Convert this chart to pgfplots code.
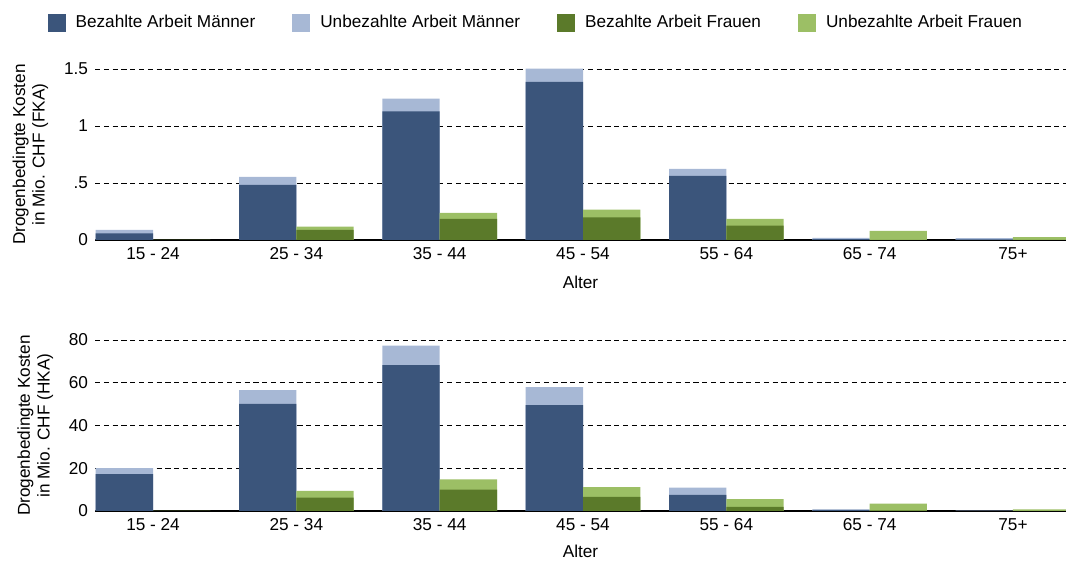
\documentclass[border=0pt]{standalone}
\usepackage{fontspec}
\setmainfont{Liberation Sans}
\usepackage{pgfplots}
\usepackage{pgfplotstable}
\pgfplotsset{compat=1.18}

\definecolor{mdark}{RGB}{59,85,123}
\definecolor{mlight}{RGB}{167,184,213}
\definecolor{fdark}{RGB}{91,122,42}
\definecolor{flight}{RGB}{156,191,101}

% paid / unpaid work, men (m) and women (f)
\pgfplotstableread{
x mp    mu    fp    fu
0 0.059 0.029 0.000 0.000
1 0.483 0.071 0.088 0.029
2 1.128 0.111 0.185 0.052
3 1.386 0.118 0.199 0.068
4 0.562 0.062 0.126 0.059
5 0.008 0.010 0.000 0.079
6 0.006 0.010 0.000 0.026
}\fka
\pgfplotstableread{
x mp   mu  fp   fu
0 17.2 2.9 0.0  0.0
1 50.1 6.5 6.2  3.2
2 68.3 9.1 10.0 4.8
3 49.5 8.4 6.6  4.6
4 7.5  3.4 1.9  3.6
5 0.5  0.3 0.3  3.1
6 0.1  0.1 0.1  0.7
}\hka

\pgfplotsset{
  costs/.style={
    scale only axis, width=485.5pt, height=85.5pt,
    anchor=south west,
    ybar, bar width=0.4,
    xmin=-0.405, xmax=6.37, ymin=0,
    xtick={0,...,6},
    xticklabels={15 - 24,25 - 34,35 - 44,45 - 54,55 - 64,65 - 74,75+},
    xticklabel style={text height=6.4pt, text depth=0pt},
    axis x line*=bottom,
    axis y line*=left,
    y axis line style={draw=none},
    x axis line style={black, line width=0.75pt},
    major tick length=0pt,
    ymajorgrids,
    grid style={black, line width=0.45pt, dash pattern=on 2.6pt off 1.8pt},
    font=\fontsize{8.6}{9.8}\selectfont,
    /pgf/number format/assume math mode=true,
    xlabel={Alter},
    ylabel style={align=center, xshift=0pt, yshift=1pt},
    every axis plot/.append style={draw=none, forget plot},
  },
}

\begin{document}
\begin{tikzpicture}
\path[use as bounding box] (0,0) rectangle (533pt,281pt);
\begin{axis}[costs, at={(47.5pt,161pt)},
    ymax=1.5, ytick={0,0.5,1,1.5}, yticklabels={0,.5,1,1.5},
    ylabel={Drogenbedingte Kosten\\in Mio. CHF (FKA)},
    xlabel style={yshift=-1.2pt},
    legend columns=4,
    legend style={draw=none, fill=none, at={(0.455,1.27)}, anchor=center,
      /tikz/every even column/.append style={column sep=16.5pt}},
    legend image code/.code={\fill[#1] (0pt,-4.5pt) rectangle (9pt,4.5pt);
      \path (12pt,0pt);},
]
\addlegendimage{fill=mdark, draw=none}
\addlegendentry{Bezahlte Arbeit Männer}
\addlegendimage{fill=mlight, draw=none}
\addlegendentry{Unbezahlte Arbeit Männer}
\addlegendimage{fill=fdark, draw=none}
\addlegendentry{Bezahlte Arbeit Frauen}
\addlegendimage{fill=flight, draw=none}
\addlegendentry{Unbezahlte Arbeit Frauen}
\addplot[fill=mlight, bar shift=-0.2] table[x=x, y expr=\thisrow{mp}+\thisrow{mu}] {\fka};
\addplot[fill=mdark, bar shift=-0.2] table[x=x, y=mp] {\fka};
\addplot[fill=flight, bar shift=0.2] table[x=x, y expr=\thisrow{fp}+\thisrow{fu}] {\fka};
\addplot[fill=fdark, bar shift=0.2] table[x=x, y=fp] {\fka};
\end{axis}
\begin{axis}[costs, at={(47.5pt,25.5pt)},
    ymax=80, ytick={0,20,40,60,80},
    ylabel={Drogenbedingte Kosten\\in Mio. CHF (HKA)},
]
\addplot[fill=mlight, bar shift=-0.2] table[x=x, y expr=\thisrow{mp}+\thisrow{mu}] {\hka};
\addplot[fill=mdark, bar shift=-0.2] table[x=x, y=mp] {\hka};
\addplot[fill=flight, bar shift=0.2] table[x=x, y expr=\thisrow{fp}+\thisrow{fu}] {\hka};
\addplot[fill=fdark, bar shift=0.2] table[x=x, y=fp] {\hka};
\end{axis}
\end{tikzpicture}
\end{document}
